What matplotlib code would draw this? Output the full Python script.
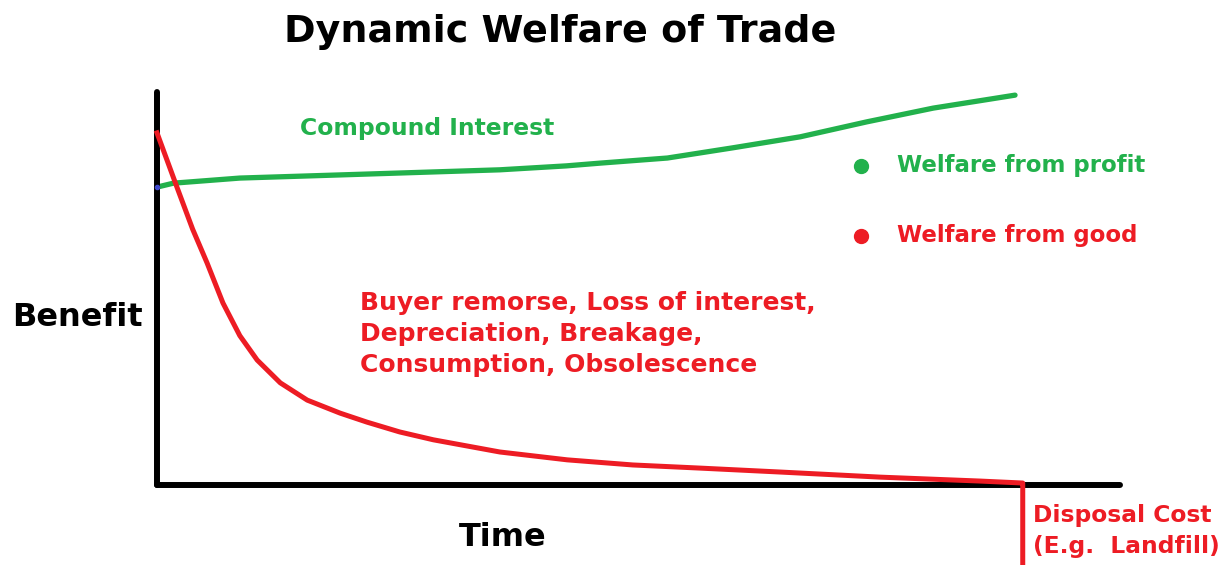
import numpy as np
import matplotlib.pyplot as plt

# values (time 0-10, benefit 0-10)
profit_t = [0.0, 0.17, 0.86, 1.90, 3.56, 4.25, 4.60, 5.30, 5.98, 6.68, 7.37, 8.06, 8.91]
profit_b = [7.58, 7.68, 7.81, 7.89, 8.02, 8.12, 8.19, 8.32, 8.58, 8.86, 9.24, 9.59, 9.92]

good_t = [0.0, 0.21, 0.37, 0.52, 0.685, 0.86, 1.04, 1.28, 1.56, 1.90, 2.18, 2.52, 2.87,
          3.56, 4.26, 4.94, 5.64, 6.47, 7.51, 8.55, 8.99, 8.99, 8.99]
good_b = [8.96, 7.56, 6.51, 5.65, 4.63, 3.80, 3.18, 2.60, 2.16, 1.83, 1.60, 1.35, 1.15,
          0.84, 0.64, 0.51, 0.43, 0.33, 0.20, 0.10, 0.05, 0.0, -2.1]

green = '#22b14c'
red = '#ed1c24'

fig = plt.figure(figsize=(12.25, 5.65), dpi=100)
ax = fig.add_axes([157 / 1225, 80 / 565, 963 / 1225, 393 / 565])
ax.set_xlim(0, 10)
ax.set_ylim(0, 10)

ax.plot(profit_t, profit_b, color=green, lw=3.8, solid_capstyle='round', clip_on=False)
ax.plot(good_t, good_b, color=red, lw=3.6, solid_joinstyle='round', clip_on=False, zorder=3)
ax.plot([0], [profit_b[0]], 'o', color='#3f48cc', ms=3, clip_on=False, zorder=4)

for s in ['top', 'right']:
    ax.spines[s].set_visible(False)
for s in ['left', 'bottom']:
    ax.spines[s].set_linewidth(4.3)
    ax.spines[s].set_capstyle('round')
ax.set_xticks([])
ax.set_yticks([])

# legend
ax.plot([7.31], [8.12], 'o', color=green, ms=10, clip_on=False)
ax.plot([7.31], [6.34], 'o', color=red, ms=10, clip_on=False)
ax.text(7.68, 8.12, 'Welfare from profit', color=green, fontsize=16.5, weight='bold', va='center')
ax.text(7.68, 6.34, 'Welfare from good', color=red, fontsize=16.5, weight='bold', va='center')

ax.text(1.49, 9.08, 'Compound Interest', color=green, fontsize=16.9, weight='bold', va='center')
ax.text(2.11, 3.84, 'Buyer remorse, Loss of interest,\nDepreciation, Breakage,\nConsumption, Obsolescence',
        color=red, fontsize=18, weight='bold', va='center', linespacing=1.38)

fig.text(560 / 1225, 1 - 32 / 565, 'Dynamic Welfare of Trade', fontsize=27.4, weight='heavy',
         ha='center', va='center')
fig.text(12 / 1225, 1 - 318 / 565, 'Benefit', fontsize=23, weight='bold', va='center')
fig.text(503 / 1225, 1 - 537 / 565, 'Time', fontsize=23, weight='bold', ha='center', va='center')
fig.text(1033 / 1225, 1 - 531 / 565, 'Disposal Cost\n(E.g.  Landfill)', color=red, fontsize=16.8,
         weight='bold', va='center', linespacing=1.45)

fig.savefig('out.png', dpi=100)
